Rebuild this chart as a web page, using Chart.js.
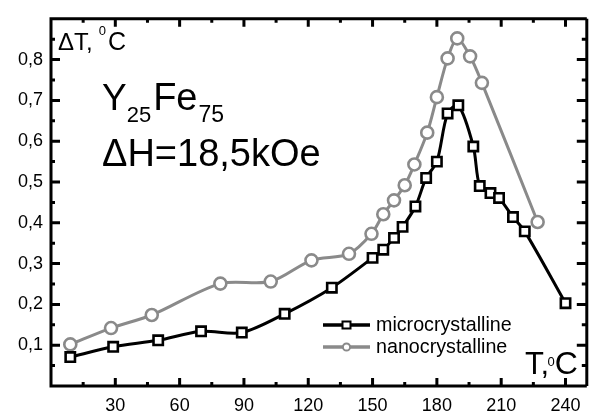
<!DOCTYPE html>
<html><head><meta charset="utf-8">
<script src="https://cdn.jsdelivr.net/npm/chart.js@4.4.1/dist/chart.umd.min.js"></script>
<style>html,body{margin:0;padding:0;background:#fff;}canvas{display:block;}</style>
</head><body>
<canvas id="c" width="594" height="412"></canvas>
<script>
// ---- data ----
const microT  = [9, 29, 50, 70, 89, 109, 131, 150, 155, 160, 164, 170, 175, 180, 185, 190, 197, 200, 205, 209, 215.5, 221, 240];
const microDT = [0.071, 0.096, 0.112, 0.134, 0.131, 0.177, 0.241, 0.314, 0.334, 0.363, 0.390, 0.440, 0.510, 0.550, 0.668, 0.688, 0.587, 0.490, 0.473, 0.461, 0.414, 0.379, 0.203];
const nanoT   = [9, 28, 47, 79, 102.5, 121.5, 139, 149.5, 155, 160, 165, 169.5, 175.5, 180, 185, 189.5, 195.5, 201, 227];
const nanoDT  = [0.102, 0.142, 0.174, 0.251, 0.256, 0.308, 0.324, 0.373, 0.421, 0.455, 0.492, 0.543, 0.621, 0.708, 0.803, 0.852, 0.808, 0.743, 0.402];
const xTickLabels = [30, 60, 90, 120, 150, 180, 210, 240];
const yTickLabels = [0.1, 0.2, 0.3, 0.4, 0.5, 0.6, 0.7, 0.8];
const seriesNames = ['microcrystalline', 'nanocrystalline'];

const FONT = "'Liberation Sans', Arial, sans-serif";
const GRAY = '#8a8a8a';

function pts(xs, ys) { return xs.map((x, i) => ({ x: x, y: ys[i] })); }
function isLabelX(v) { return xTickLabels.some(t => Math.abs(t - v) < 1e-6); }
function isLabelY(v) { return yTickLabels.some(t => Math.abs(t - v) < 1e-6); }

function runs(ctx, x, base, list) {
  ctx.textBaseline = 'alphabetic';
  ctx.textAlign = 'left';
  let cx = x;
  list.forEach(r => {
    cx += (r.gap || 0);
    ctx.font = r.size + 'px ' + FONT;
    ctx.fillText(r.t, cx, base + (r.dy || 0));
    cx += ctx.measureText(r.t).width;
  });
}

const framePlugin = {
  id: 'frame',
  afterDraw(chart) {
    const ctx = chart.ctx, a = chart.chartArea, xs = chart.scales.x, ys = chart.scales.y;
    ctx.save();
    ctx.strokeStyle = '#000';
    ctx.lineWidth = 3;
    const R = a.right + 2;
    ctx.beginPath();
    ctx.moveTo(a.left - 1.5, a.top); ctx.lineTo(R, a.top);
    ctx.moveTo(a.left - 1.5, a.bottom); ctx.lineTo(R, a.bottom);
    ctx.moveTo(a.left, a.top); ctx.lineTo(a.left, a.bottom);
    ctx.moveTo(R, a.top); ctx.lineTo(R, a.bottom);
    ctx.stroke();
    // inward ticks
    ctx.beginPath();
    xs.ticks.forEach(t => {
      const v = t.value;
      if (v <= xs.min + 1e-6 || v >= xs.max - 1e-6) return;
      const px = xs.getPixelForValue(v);
      const L = isLabelX(v) ? 8 : 4;
      ctx.moveTo(px, a.bottom); ctx.lineTo(px, a.bottom - L);
      ctx.moveTo(px, a.top); ctx.lineTo(px, a.top + L);
    });
    ys.ticks.forEach(t => {
      const v = t.value;
      if (v <= ys.min + 1e-6 || v >= ys.max - 1e-6) return;
      const py = ys.getPixelForValue(v);
      const L = isLabelY(v) ? 9 : 4;
      ctx.moveTo(a.left, py); ctx.lineTo(a.left + L, py);
      ctx.moveTo(R, py); ctx.lineTo(R - L - 1, py);
    });
    ctx.stroke();

    // annotations
    ctx.fillStyle = '#000';
    runs(ctx, 58, 50, [{ t: '\u0394T,', size: 24 }, { t: '0', size: 13, dy: -15, gap: 6 }, { t: 'C', size: 25, gap: 2 }]);
    runs(ctx, 102, 110, [{ t: 'Y', size: 37 }, { t: '25', size: 22, dy: 12 }, { t: 'Fe', size: 38, gap: 2 }, { t: '75', size: 23, dy: 12, gap: 1 }]);
    runs(ctx, 102, 166, [{ t: '\u0394H=18,5kOe', size: 38 }]);
    runs(ctx, 525, 374, [{ t: 'T,', size: 31 }, { t: '0', size: 13, dy: -8, gap: -1.5 }, { t: 'C', size: 32 }]);

    // legend
    const ds = chart.data.datasets;
    const rows = [325, 347];
    ds.forEach((d, i) => {
      const yy = rows[i];
      ctx.strokeStyle = d.borderColor;
      ctx.lineWidth = 3.5;
      ctx.beginPath(); ctx.moveTo(323, yy); ctx.lineTo(370, yy); ctx.stroke();
      ctx.fillStyle = '#fff';
      ctx.lineWidth = 2;
      ctx.beginPath();
      if (d.pointStyle === 'rect') ctx.rect(342.5, yy - 3.5, 8, 7);
      else ctx.arc(346.5, yy, 3.6, 0, Math.PI * 2);
      ctx.fill(); ctx.stroke();
      ctx.fillStyle = '#000';
      ctx.font = '19.7px ' + FONT;
      ctx.textBaseline = 'middle';
      ctx.fillText(d.label, 376, yy + 1);
    });
    ctx.restore();
  }
};

new Chart(document.getElementById('c'), {
  type: 'line',
  data: {
    datasets: [
      {
        label: seriesNames[0], data: pts(microT, microDT),
        borderColor: '#000', borderWidth: 3, tension: 0.3,
        pointStyle: 'rect', pointRadius: 6.6, pointBorderWidth: 2.6,
        pointBackgroundColor: '#fff', pointBorderColor: '#000'
      },
      {
        label: seriesNames[1], data: pts(nanoT, nanoDT),
        borderColor: GRAY, borderWidth: 3, tension: 0.3,
        pointStyle: 'circle', pointRadius: 6, pointBorderWidth: 2.6,
        pointBackgroundColor: '#fff', pointBorderColor: GRAY
      }
    ]
  },
  options: {
    responsive: false,
    animation: false,
    devicePixelRatio: 1,
    layout: { padding: { top: 14, right: 0, left: 0, bottom: 0 } },
    plugins: { legend: { display: false }, tooltip: { enabled: false } },
    scales: {
      x: {
        type: 'linear', min: 0, max: 249,
        grid: { display: false, drawTicks: false },
        border: { display: false },
        afterFit(s) { s.height = 26; },
        ticks: {
          stepSize: 15, padding: 9, maxRotation: 0, autoSkip: false, includeBounds: false,
          color: '#000', font: { family: FONT, size: 18 },
          callback: v => isLabelX(v) ? String(v) : ''
        }
      },
      y: {
        type: 'linear', min: 0, max: 0.9,
        grid: { display: false, drawTicks: false },
        border: { display: false },
        afterFit(s) { s.width = 51; },
        ticks: {
          stepSize: 0.05, padding: 8, autoSkip: false, includeBounds: false,
          color: '#000', font: { family: FONT, size: 18 },
          callback: v => isLabelY(v) ? v.toFixed(1).replace('.', ',') : ''
        }
      }
    }
  },
  plugins: [framePlugin]
});
</script>
</body></html>
